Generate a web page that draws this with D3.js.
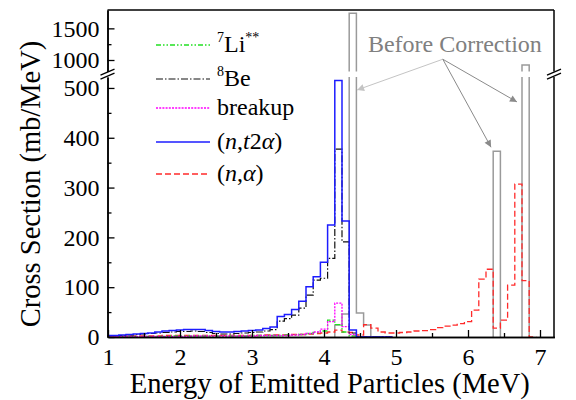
<!DOCTYPE html>
<html>
<head>
<meta charset="utf-8">
<script src="https://cdn.jsdelivr.net/npm/d3@7"></script>
<style>
  body { margin: 0; background: #fff; }
  text { font-family: "Liberation Serif", "Times New Roman", serif; }
</style>
</head>
<body>
<div id="vis"></div>
<script>
// Frame size and plot edges
const FRAME_WIDTH = 576;
const FRAME_HEIGHT = 400;
const LEFT = 107.5, RIGHT = 554, TOP = 10, BOTTOM = 337;
// broken y axis: upper part ends at UP_BOTTOM, lower part starts at LOW_TOP
const UP_BOTTOM = 71.4, LOW_TOP = 77;

// Energy bins (MeV, bin centres) and spectra (mb/MeV)
const E_LOW = [1.0, 1.1, 1.2, 1.3, 1.4, 1.5, 1.6, 1.7, 1.8, 1.9,
               2.0, 2.1, 2.2, 2.3, 2.4, 2.5, 2.6, 2.7, 2.8, 2.9,
               3.0, 3.1, 3.2, 3.3, 3.4, 3.5, 3.6, 3.7, 3.8, 3.9,
               4.0, 4.1, 4.2, 4.3, 4.4, 4.5, 4.6, 4.7, 4.8, 4.9];
const NT2A = [3, 3, 4, 5, 6, 7, 8, 10, 12, 13,
              14, 15, 15, 15, 13, 11, 10, 10, 11, 12,
              13, 14, 17, 20, 41, 45, 55, 72, 101, 121,
              150, 225, 515, 233, 14, 0, 0, 0, 0, 0];
const BE8 = [2, 3, 3, 4, 5, 6, 7, 8, 9, 10,
             11, 11, 12, 11, 9, 7, 6, 6, 7, 8,
             9, 10, 12, 15, 32, 37, 44, 58, 84, 114,
             118, 158, 377, 191, 8, 0, 0, 0, 0, 0];
const LI7 = [1, 1, 1, 1, 1, 1, 1, 1, 1, 2,
             2, 2, 2, 2, 2, 2, 2, 2, 2, 2,
             3, 3, 3, 3, 3, 4, 4, 5, 7, 9,
             12, 34, 25, 10, 2, 0, 0, 0, 0, 0];
const BREAKUP = [1, 1, 1, 1, 1, 1, 1, 1, 1, 1,
                 1, 1, 2, 2, 2, 2, 2, 2, 2, 2,
                 2, 3, 3, 3, 3, 3, 4, 5, 7, 10,
                 16, 31, 68, 21, 5, 0, 0, 0, 0, 0];

const E_NA = [1.0, 1.1, 1.2, 1.3, 1.4, 1.5, 1.6, 1.7, 1.8, 1.9,
              2.0, 2.1, 2.2, 2.3, 2.4, 2.5, 2.6, 2.7, 2.8, 2.9,
              3.0, 3.1, 3.2, 3.3, 3.4, 3.5, 3.6, 3.7, 3.8, 3.9,
              4.0, 4.1, 4.2, 4.3, 4.4, 4.5, 4.6, 4.7, 4.8, 4.9,
              5.0, 5.1, 5.2, 5.3, 5.4, 5.5, 5.6, 5.7, 5.8, 5.9,
              6.0, 6.1, 6.2, 6.3, 6.4, 6.5, 6.6, 6.7, 6.8, 6.9];
const NA = [2, 2, 2, 2, 2, 2, 2, 2, 3, 3,
            3, 3, 3, 3, 3, 3, 3, 3, 3, 3,
            3, 3, 4, 4, 4, 4, 5, 5, 6, 7,
            8, 10, 14, 10, 9, 4, 25, 18, 10, 8,
            8, 9, 10, 12, 13, 15, 19, 22, 24, 27,
            31, 54, 116, 136, 18, 34, 104, 307, 113, 0];

// "Before Correction" spectrum
const E_BEFORE = [4.2, 4.3, 4.4, 4.5, 4.6, 6.4, 6.8];
const BEFORE = [24, 46, 1740, 48, 24, 373, 920];

// Ticks
const X_TICKS = [1, 2, 3, 4, 5, 6, 7];
const X_MINOR = [1.5, 2.5, 3.5, 4.5, 5.5, 6.5];
const Y_TICKS_LOW = [0, 100, 200, 300, 400, 500];
const Y_MINOR_LOW = [50, 150, 250, 350, 450];
const Y_TICKS_UP = [1000, 1500];
const Y_MINOR_UP = [1250];

const BIN = 0.1;

// Scales
const X_SCALE = d3.scaleLinear().domain([1, 7.2]).range([108, 108 + 72 * 6.2]);
const Y_LOW = d3.scaleLinear().domain([0, 522]).range([BOTTOM, LOW_TOP]);
const Y_UP = d3.scaleLinear().domain([820, 1790]).range([UP_BOTTOM, TOP]);

const svg = d3.select("#vis").append("svg")
    .attr("width", FRAME_WIDTH)
    .attr("height", FRAME_HEIGHT);

// clip paths for the two parts of the broken axis
const defs = svg.append("defs");
defs.append("clipPath").attr("id", "clipLow")
  .append("rect").attr("x", LEFT).attr("y", LOW_TOP)
  .attr("width", RIGHT - LEFT).attr("height", BOTTOM - LOW_TOP + 1);
defs.append("clipPath").attr("id", "clipUp")
  .append("rect").attr("x", LEFT).attr("y", TOP)
  .attr("width", RIGHT - LEFT).attr("height", UP_BOTTOM - TOP);

// arrow heads
[["arrLight", "#c4c4c4"], ["arrDark", "#8a8a8a"]].forEach(([id, c]) => {
  defs.append("marker").attr("id", id)
    .attr("viewBox", "0 0 10 10").attr("refX", 10).attr("refY", 5)
    .attr("markerWidth", 9).attr("markerHeight", 7)
    .attr("markerUnits", "userSpaceOnUse").attr("orient", "auto")
    .append("path").attr("d", "M0,0 L10,5 L0,10 Z").attr("fill", c);
});

// turn bins into step points; contiguous runs drawn as separate pieces
function stepRuns(xs, vs) {
  const runs = [];
  let cur = null;
  xs.forEach((x, i) => {
    if (!cur || x - xs[i - 1] > BIN * 1.5) {
      if (cur) runs.push(cur);
      cur = [];
    }
    cur.push({ e: x, v: vs[i] });
  });
  if (cur) runs.push(cur);
  return runs.map(r => {
    const pts = [{ x: r[0].e - BIN / 2, v: 0 }];
    r.forEach(b => pts.push({ x: b.e - BIN / 2, v: b.v }));
    const last = r[r.length - 1];
    pts.push({ x: last.e + BIN / 2, v: last.v });
    pts.push({ x: last.e + BIN / 2, v: 0 });
    return pts;
  });
}

const SERIES = [
  { xs: E_BEFORE, vs: BEFORE, color: "#9a9a9a", width: 1.5, dash: null },
  { xs: E_NA, vs: NA, color: "#ff2a2a", width: 1.3, dash: "6,3" },
  { xs: E_LOW, vs: LI7, color: "#22e022", width: 1.3, dash: "5,2,1.5,2,1.5,2" },
  { xs: E_LOW, vs: BREAKUP, color: "#ff00ff", width: 1.3, dash: "2,1.2" },
  { xs: E_LOW, vs: BE8, color: "#111", width: 1.2, dash: "7,2,1.5,2" },
  { xs: E_LOW, vs: NT2A, color: "#1c1cff", width: 1.5, dash: null }
];

[["clipLow", Y_LOW], ["clipUp", Y_UP]].forEach(([clip, yScale]) => {
  const g = svg.append("g").attr("clip-path", "url(#" + clip + ")");
  const line = d3.line()
    .x(d => X_SCALE(d.x))
    .y(d => yScale(d.v))
    .curve(d3.curveStepAfter);
  SERIES.forEach(s => {
    stepRuns(s.xs, s.vs).forEach(pts => {
      g.append("path")
        .attr("d", line(pts))
        .attr("fill", "none")
        .attr("stroke", s.color)
        .attr("stroke-width", s.width)
        .attr("stroke-dasharray", s.dash);
    });
  });
});

// Axes (ticks pointing inwards)
function styleAxis(g) {
  g.attr("font-family", null);
  g.select(".domain").attr("stroke", "#000").attr("stroke-width", 1.5);
  g.selectAll(".tick line").attr("stroke", "#000").attr("stroke-width", 1.3);
  g.selectAll("text").attr("font-size", "24px").attr("fill", "#000");
}

svg.append("g").attr("transform", "translate(0," + BOTTOM + ")")
  .call(d3.axisBottom(X_SCALE).tickValues(X_TICKS).tickSize(-7).tickSizeOuter(0)
    .tickPadding(11).tickFormat(d3.format("d")))
  .call(styleAxis);
svg.append("g").attr("transform", "translate(0," + BOTTOM + ")")
  .call(d3.axisBottom(X_SCALE).tickValues(X_MINOR).tickSize(-4).tickSizeOuter(0).tickFormat(""))
  .call(styleAxis);

svg.append("g").attr("transform", "translate(" + LEFT + ",0)")
  .call(d3.axisLeft(Y_LOW).tickValues(Y_TICKS_LOW).tickSize(-7).tickSizeOuter(0)
    .tickPadding(8).tickFormat(d3.format("d")))
  .call(styleAxis);
svg.append("g").attr("transform", "translate(" + LEFT + ",0)")
  .call(d3.axisLeft(Y_LOW).tickValues(Y_MINOR_LOW).tickSize(-4).tickSizeOuter(0).tickFormat(""))
  .call(styleAxis);
svg.append("g").attr("transform", "translate(" + LEFT + ",0)")
  .call(d3.axisLeft(Y_UP).tickValues(Y_TICKS_UP).tickSize(-7).tickSizeOuter(0)
    .tickPadding(8).tickFormat(d3.format("d")))
  .call(styleAxis);
svg.append("g").attr("transform", "translate(" + LEFT + ",0)")
  .call(d3.axisLeft(Y_UP).tickValues(Y_MINOR_UP).tickSize(-4).tickSizeOuter(0).tickFormat(""))
  .call(styleAxis);

// top and right frame lines
const frame = svg.append("g").attr("stroke", "#000").attr("stroke-width", 1.5);
frame.append("line").attr("x1", LEFT).attr("x2", RIGHT).attr("y1", TOP).attr("y2", TOP);
frame.append("line").attr("x1", RIGHT).attr("x2", RIGHT).attr("y1", TOP).attr("y2", UP_BOTTOM);
frame.append("line").attr("x1", RIGHT).attr("x2", RIGHT).attr("y1", LOW_TOP).attr("y2", BOTTOM);

// break marks "//"
[LEFT, RIGHT].forEach(cx => {
  const cy = (UP_BOTTOM + LOW_TOP) / 2;
  [-2, 2].forEach(off => {
    frame.append("line")
      .attr("x1", cx - 7).attr("y1", cy + off + 3)
      .attr("x2", cx + 7).attr("y2", cy + off - 3)
      .attr("stroke-width", 1.3);
  });
});

// Axis titles
svg.append("text")
  .attr("x", (LEFT + RIGHT) / 2 - 1).attr("y", 393)
  .attr("text-anchor", "middle").attr("font-size", "28.5px")
  .text("Energy of Emitted Particles (MeV)");
svg.append("text")
  .attr("transform", "translate(40,184) rotate(-90)")
  .attr("text-anchor", "middle").attr("font-size", "28.5px")
  .text("Cross Section (mb/MeV)");

// "Before Correction" annotation
const ANNOT_FROM = [5.65, 1012];
const ANNOT_TIPS = [[4.46, 496, "arrLight", "#c4c4c4"],
                    [6.68, 472, "arrDark", "#8a8a8a"],
                    [6.32, 381, "arrDark", "#8a8a8a"]];
svg.append("text")
  .attr("x", X_SCALE(4.61)).attr("y", Y_UP(1126))
  .attr("font-size", "24px").attr("fill", "#808080")
  .text("Before Correction");
ANNOT_TIPS.forEach(([ex, ev, m, c]) => {
  svg.append("line")
    .attr("x1", X_SCALE(ANNOT_FROM[0])).attr("y1", Y_UP(ANNOT_FROM[1]))
    .attr("x2", X_SCALE(ex)).attr("y2", Y_LOW(ev))
    .attr("stroke", c).attr("stroke-width", 1)
    .attr("marker-end", "url(#" + m + ")");
});

// Legend
const LEGEND_Y = [45, 79, 108, 142, 174];
const legend = svg.append("g");
const LEG_ITEMS = [SERIES[2], SERIES[4], SERIES[3], SERIES[5], SERIES[1]];
LEG_ITEMS.forEach((s, i) => {
  legend.append("line")
    .attr("x1", 156).attr("x2", 210)
    .attr("y1", LEGEND_Y[i]).attr("y2", LEGEND_Y[i])
    .attr("stroke", s.color).attr("stroke-width", s.width)
    .attr("stroke-dasharray", s.dash);
});
function legText(i) {
  return legend.append("text").attr("x", 217).attr("y", LEGEND_Y[i] + 7)
    .attr("font-size", "24px");
}
let t = legText(0);
t.append("tspan").attr("font-size", "14px").attr("dy", -10).text("7");
t.append("tspan").attr("dy", 10).text("Li");
t.append("tspan").attr("font-size", "14px").attr("dy", -10).text("**");
t = legText(1);
t.append("tspan").attr("font-size", "14px").attr("dy", -10).text("8");
t.append("tspan").attr("dy", 10).text("Be");
legText(2).text("breakup");
t = legText(3);
t.append("tspan").text("(");
t.append("tspan").attr("font-style", "italic").text("n");
t.append("tspan").text(",");
t.append("tspan").attr("font-style", "italic").text("t");
t.append("tspan").text("2");
t.append("tspan").attr("font-style", "italic").text("α");
t.append("tspan").text(")");
t = legText(4);
t.append("tspan").text("(");
t.append("tspan").attr("font-style", "italic").text("n");
t.append("tspan").text(",");
t.append("tspan").attr("font-style", "italic").text("α");
t.append("tspan").text(")");
</script>
</body>
</html>
